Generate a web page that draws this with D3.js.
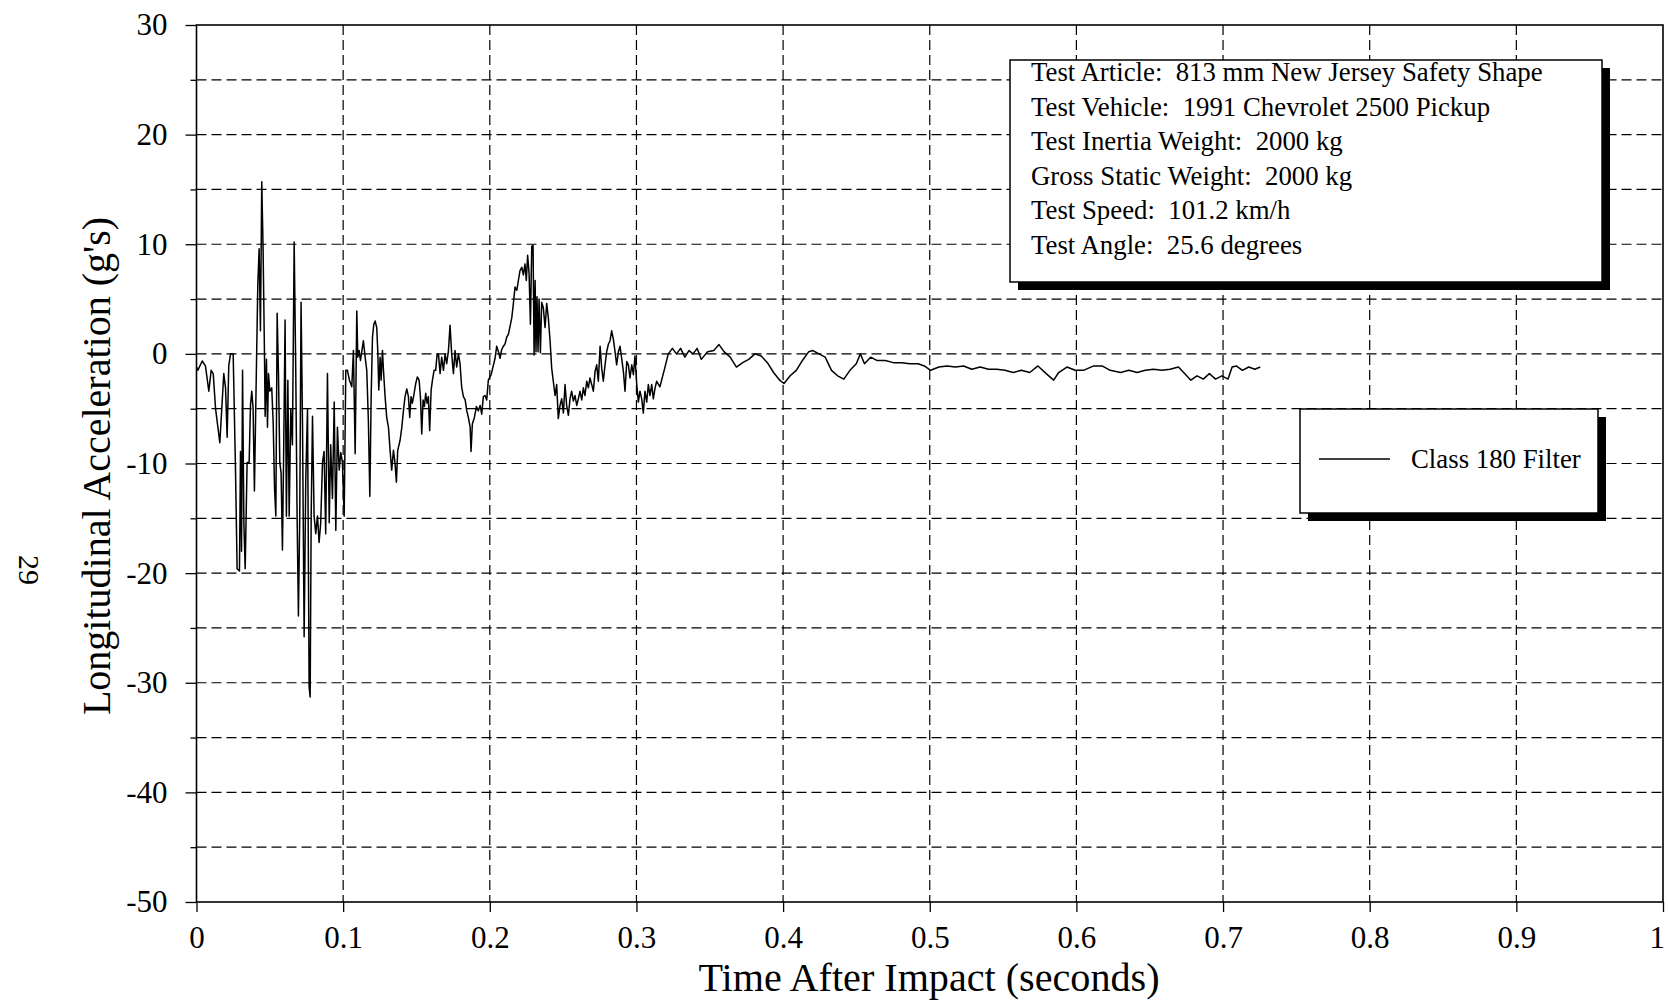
<!DOCTYPE html>
<html><head><meta charset="utf-8">
<script src="https://cdn.jsdelivr.net/npm/d3@7/dist/d3.min.js"></script>
<style>
body{margin:0;background:#fff}
text{font-family:"Liberation Serif","Times New Roman",serif;fill:#000}
</style>
</head><body>
<svg id="chart" width="1668" height="1000"></svg>
<script>
// ---- data ----
const timeS = [
0.0000,0.0009,0.0039,0.0061,0.0084,0.0100,0.0114,0.0130,0.0159,0.0175,0.0186,0.0198,0.0209,0.0220,0.0232,0.0250,
0.0266,0.0277,0.0293,0.0300,0.0307,0.0314,0.0323,0.0332,0.0345,0.0359,0.0368,0.0377,0.0386,0.0395,0.0404,0.0418,
0.0427,0.0436,0.0445,0.0454,0.0464,0.0468,0.0477,0.0484,0.0491,0.0500,0.0513,0.0523,0.0532,0.0541,0.0550,0.0559,
0.0568,0.0577,0.0586,0.0595,0.0604,0.0613,0.0623,0.0632,0.0643,0.0654,0.0666,0.0677,0.0686,0.0695,0.0704,0.0713,
0.0723,0.0734,0.0745,0.0757,0.0768,0.0775,0.0782,0.0791,0.0802,0.0813,0.0825,0.0836,0.0847,0.0859,0.0870,0.0881,
0.0893,0.0905,0.0915,0.0927,0.0939,0.0950,0.0961,0.0973,0.0984,0.0995,0.1007,0.1018,0.1029,0.1043,0.1059,0.1070,
0.1082,0.1093,0.1100,0.1109,0.1118,0.1127,0.1138,0.1150,0.1161,0.1172,0.1182,0.1191,0.1200,0.1209,0.1218,0.1229,
0.1236,0.1243,0.1252,0.1259,0.1268,0.1275,0.1286,0.1297,0.1309,0.1320,0.1331,0.1343,0.1354,0.1363,0.1372,0.1388,
0.1400,0.1411,0.1422,0.1434,0.1445,0.1454,0.1463,0.1472,0.1484,0.1495,0.1506,0.1518,0.1527,0.1536,0.1545,0.1554,
0.1563,0.1572,0.1581,0.1590,0.1600,0.1609,0.1620,0.1631,0.1641,0.1650,0.1661,0.1672,0.1684,0.1695,0.1706,0.1718,
0.1729,0.1740,0.1752,0.1763,0.1774,0.1786,0.1797,0.1808,0.1820,0.1832,0.1843,0.1854,0.1866,0.1872,0.1881,0.1895,
0.1909,0.1922,0.1934,0.1945,0.1956,0.1968,0.1979,0.1990,0.2009,0.2025,0.2036,0.2047,0.2059,0.2070,0.2081,0.2093,
0.2104,0.2115,0.2127,0.2138,0.2150,0.2161,0.2172,0.2184,0.2195,0.2206,0.2218,0.2229,0.2240,0.2249,0.2258,0.2268,
0.2277,0.2286,0.2295,0.2302,0.2309,0.2315,0.2322,0.2329,0.2336,0.2345,0.2354,0.2365,0.2377,0.2388,0.2399,0.2411,
0.2422,0.2433,0.2445,0.2456,0.2467,0.2479,0.2490,0.2502,0.2513,0.2524,0.2536,0.2547,0.2558,0.2570,0.2581,0.2593,
0.2604,0.2615,0.2627,0.2638,0.2649,0.2661,0.2672,0.2683,0.2695,0.2706,0.2718,0.2729,0.2740,0.2752,0.2763,0.2774,
0.2786,0.2797,0.2809,0.2820,0.2831,0.2843,0.2854,0.2865,0.2877,0.2888,0.2899,0.2911,0.2922,0.2934,0.2945,0.2956,
0.2968,0.2979,0.2990,0.3002,0.3013,0.3024,0.3036,0.3047,0.3058,0.3070,0.3081,0.3092,0.3104,0.3115,0.3127,0.3138,
0.3160,0.3189,0.3217,0.3245,0.3273,0.3301,0.3330,0.3358,0.3386,0.3414,0.3442,0.3485,0.3527,0.3563,0.3597,0.3639,
0.3682,0.3724,0.3766,0.3808,0.3851,0.3893,0.3935,0.3977,0.4006,0.4048,0.4090,0.4132,0.4175,0.4203,0.4245,0.4287,
0.4330,0.4372,0.4414,0.4456,0.4499,0.4527,0.4555,0.4597,0.4639,0.4696,0.4752,0.4808,0.4865,0.4921,0.4963,0.5006,
0.5062,0.5118,0.5175,0.5231,0.5287,0.5344,0.5400,0.5456,0.5513,0.5569,0.5625,0.5682,0.5738,0.5794,0.5845,0.5879,
0.5935,0.5992,0.6048,0.6118,0.6175,0.6231,0.6301,0.6358,0.6414,0.6470,0.6527,0.6583,0.6639,0.6696,0.6738,0.6780,
0.6823,0.6865,0.6907,0.6949,0.6992,0.7034,0.7062,0.7090,0.7132,0.7175,0.7217,0.7254
];
const accelG = [
-1.2,-1.5,-0.65,-1.1,-3.4,-1.5,-1.8,-5.0,-8.1,-4.4,-1.8,-3.1,-7.6,-1.1,0,0,
-10.6,-19.6,-19.8,-8.9,-18.0,-1.5,-15.4,-19.6,-9.9,-9.9,-4.7,-3.4,-5.0,-12.5,-5.0,6.3,
9.6,2.1,15.7,9.6,-0.5,-5.7,-0.5,-6.7,-1.8,-3.4,-3.1,-6.3,-12.2,-14.8,3.7,-1.8,
-9.9,-10.9,-17.9,-8.3,3.1,-14.8,-2.4,-14.8,-5.0,-8.3,10.2,-1.8,-14.8,-23.9,-14.8,4.7,
-6.7,-25.8,-11.5,-5.0,-30.4,-31.3,-14.8,-5.7,-14.8,-16.4,-14.8,-17.2,-15.4,-9.9,-8.9,-16.4,
-1.8,-15.4,-8.3,-13.2,-4.4,-16.1,-6.7,-10.6,-9.0,-9.9,-14.8,-1.5,-1.5,-2.4,-3.0,0.3,
-9.1,3.9,-0.3,0.3,-0.6,0.2,1.2,-0.3,-1.5,-6.1,-13.0,-3.9,1.5,2.7,3.0,2.4,
0.3,-3.3,-0.3,-2.4,0.3,-1.5,-3.9,-5.8,-6.7,-8.8,-10.6,-8.8,-10.0,-11.7,-8.8,-7.9,
-6.7,-5.2,-3.9,-3.2,-3.9,-5.8,-3.9,-4.5,-3.6,-2.7,-2.1,-2.4,-3.9,-7.3,-4.2,-4.8,
-3.6,-4.5,-3.9,-7.0,-3.3,-2.4,-1.5,-1.5,0,0,-1.8,-0.3,-1.5,0,-0.9,0.3,
2.6,0,-1.8,0.3,-1.2,0,-0.9,-3.0,-3.9,-4.2,-5.2,-5.8,-6.7,-8.9,-6.4,-5.8,
-4.8,-5.2,-4.7,-5.5,-3.9,-3.8,-4.2,-2.4,-1.9,-1.0,-0.4,0.7,0.2,-0.4,0.4,0.7,
0.9,1.5,1.8,2.5,3.3,4.6,6.1,5.8,6.7,7.6,7.9,7.2,8.2,6.7,9.0,7.3,
2.7,9.8,9.9,-0.1,6.7,0.2,5.2,0.2,5.0,0.1,4.7,4.2,2.4,4.6,3.3,1.2,
-1.3,-2.5,-3.8,-2.8,-5.9,-4.7,-4.1,-5.4,-2.8,-4.7,-5.6,-4.1,-3.4,-4.3,-3.8,-4.7,
-4.1,-3.4,-4.2,-3.1,-3.8,-2.5,-3.1,-2.2,-2.8,-3.4,-1.6,-1.0,-2.5,0.7,-1.3,-2.5,
-1.0,0.2,0.9,1.2,2.1,1.3,0.2,-1.0,0.2,0.7,-0.4,-1.6,-3.4,-0.7,-1.0,-2.2,
-1.0,-1.9,-0.2,-2.8,-4.4,-3.4,-4.1,-5.4,-3.4,-4.4,-2.8,-3.8,-2.8,-4.1,-3.1,-2.5,
-3.0,-1.5,0,0.5,0,0.5,-0.3,0.3,0,0.5,-0.5,0.2,0.3,0.85,0.2,-0.3,
-1.2,-0.8,-0.5,0,-0.2,-0.8,-1.7,-2.4,-2.7,-2.0,-1.5,-0.6,0.2,0.3,0,-0.3,
-1.5,-2.0,-2.3,-1.5,-0.9,0,-0.9,-0.3,-0.6,-0.6,-0.8,-0.8,-0.9,-0.9,-1.1,-1.5,
-1.2,-1.1,-1.2,-1.1,-1.4,-1.2,-1.4,-1.4,-1.5,-1.7,-1.5,-1.7,-1.1,-1.8,-2.4,-1.7,
-1.2,-1.5,-1.5,-1.1,-1.1,-1.5,-1.7,-1.5,-1.7,-1.5,-1.4,-1.5,-1.4,-1.2,-1.8,-2.4,
-2.0,-2.3,-1.8,-2.3,-2.0,-2.3,-1.2,-1.1,-1.5,-1.2,-1.4,-1.2
];
const xTicks = [0,0.1,0.2,0.3,0.4,0.5,0.6,0.7,0.8,0.9,1];
const xTickLabels = ["0","0.1","0.2","0.3","0.4","0.5","0.6","0.7","0.8","0.9","1"];
const yTicks = [30,20,10,0,-10,-20,-30,-40,-50];
const yTickLabels = ["30","20","10","0","-10","-20","-30","-40","-50"];
const yMinorTicks = [25,15,5,-5,-15,-25,-35,-45];
const infoLines = [
  "Test Article:  813 mm New Jersey Safety Shape",
  "Test Vehicle:  1991 Chevrolet 2500 Pickup",
  "Test Inertia Weight:  2000 kg",
  "Gross Static Weight:  2000 kg",
  "Test Speed:  101.2 km/h",
  "Test Angle:  25.6 degrees"
];
const seriesName = "Class 180 Filter";
const xTitle = "Time After Impact (seconds)";
const yTitle = "Longitudinal Acceleration (g's)";
const pageNumber = "29";

// ---- drawing ----
const svg = d3.select("#chart");
const L = 196.5, R = 1663, T = 25, B = 902;
const x = d3.scaleLinear().domain([0, 1]).range([L, R]);
const y = d3.scaleLinear().domain([-50, 30]).range([B, T]);

const grid = svg.append("g").attr("stroke", "#000").attr("stroke-width", 1.2)
  .attr("stroke-dasharray", "10,5").attr("fill", "none");
xTicks.filter(d => d > 0 && d < 1).forEach(d => {
  grid.append("line").attr("x1", x(d)).attr("x2", x(d)).attr("y1", T).attr("y2", B);
});
yTicks.concat(yMinorTicks).filter(d => d > -50 && d < 30).forEach(d => {
  grid.append("line").attr("x1", L).attr("x2", R).attr("y1", y(d)).attr("y2", y(d));
});

// axes
const yAxis = svg.append("g").attr("transform", `translate(${L},0)`)
  .call(d3.axisLeft(y).tickValues(yTicks).tickSize(11).tickSizeOuter(0).tickPadding(18)
    .tickFormat((d, i) => yTickLabels[i]));
const yMinor = svg.append("g").attr("transform", `translate(${L},0)`)
  .call(d3.axisLeft(y).tickValues(yMinorTicks).tickSize(6).tickSizeOuter(0).tickFormat(""));
const xAxis = svg.append("g").attr("transform", `translate(0,${B})`)
  .call(d3.axisBottom(x).tickValues(xTicks).tickSize(10).tickSizeOuter(0).tickPadding(14)
    .tickFormat((d, i) => xTickLabels[i]));
[yAxis, yMinor, xAxis].forEach(g => {
  g.selectAll("path.domain").remove();
  g.selectAll("line").attr("stroke", "#000").attr("stroke-width", 1.3);
  g.selectAll("text").attr("font-family", "Liberation Serif").attr("font-size", 31).attr("fill", "#000");
});
// keep the last x label inside the page
xAxis.selectAll(".tick text").filter(d => d === 1).attr("text-anchor", "end").attr("dx", "0.05em");

// frame
svg.append("rect").attr("x", L).attr("y", T).attr("width", R - L).attr("height", B - T)
  .attr("fill", "none").attr("stroke", "#000").attr("stroke-width", 1.6);

// data line
const pts = timeS.map((t, i) => [t, accelG[i]]);
svg.append("path").datum(pts)
  .attr("fill", "none").attr("stroke", "#000").attr("stroke-width", 1.5)
  .attr("stroke-linejoin", "round")
  .attr("d", d3.line().x(d => x(d[0])).y(d => y(d[1])));

// info box
function shadowBox(bx, by, bw, bh) {
  svg.append("rect").attr("x", bx + 8).attr("y", by + 8).attr("width", bw).attr("height", bh).attr("fill", "#000");
  svg.append("rect").attr("x", bx).attr("y", by).attr("width", bw).attr("height", bh)
    .attr("fill", "#fff").attr("stroke", "#000").attr("stroke-width", 1.5);
}
shadowBox(1010, 60, 592, 222);
const info = svg.append("g");
infoLines.forEach((s, i) => {
  info.append("text").attr("x", 1031).attr("y", 81 + i * 34.5)
    .attr("font-size", 26.8).style("white-space", "pre").text(s);
});

// legend
shadowBox(1300, 409, 298, 104);
svg.append("line").attr("x1", 1319).attr("x2", 1390).attr("y1", 459).attr("y2", 459)
  .attr("stroke", "#000").attr("stroke-width", 1.4);
svg.append("text").attr("x", 1411).attr("y", 468).attr("font-size", 26.8).text(seriesName);

// titles
svg.append("text").attr("x", 929).attr("y", 991).attr("text-anchor", "middle")
  .attr("font-size", 39).attr("textLength", 461).attr("lengthAdjust", "spacingAndGlyphs").text(xTitle);
svg.append("text").attr("transform", "translate(110,466) rotate(-90)").attr("text-anchor", "middle")
  .attr("font-size", 40).text(yTitle);
svg.append("text").attr("transform", "translate(19,570) rotate(90)").attr("text-anchor", "middle")
  .attr("font-size", 30).text(pageNumber);
</script>
</body></html>
